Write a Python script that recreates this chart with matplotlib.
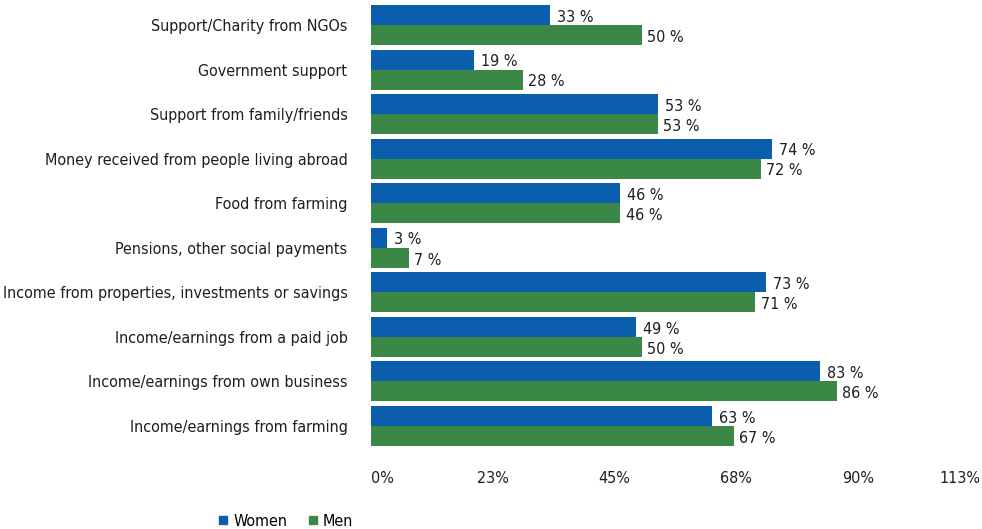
import matplotlib
matplotlib.use("Agg")
from matplotlib import pyplot as plt
from matplotlib import font_manager
from matplotlib.lines import Line2D

kategorien = [
    "Support/Charity from NGOs",
    "Government support",
    "Support from family/friends",
    "Money received from people living abroad",
    "Food from farming",
    "Pensions, other social payments",
    "Income from properties, investments or savings",
    "Income/earnings from a paid job",
    "Income/earnings from own business",
    "Income/earnings from farming",
]
frauen = [33, 19, 53, 74, 46, 3, 73, 49, 83, 63]
maenner = [50, 28, 53, 72, 46, 7, 71, 50, 86, 67]
ticks = [0, 22.5, 45, 67.5, 90, 112.5]
tick_texte = ["0%", "23%", "45%", "68%", "90%", "113%"]

blau = "#0b5ead"
gruen = "#3b8746"
text_farbe = "#1e1e1e"

# schmale Schrift, wenn vorhanden
namen = {f.name for f in font_manager.fontManager.ttflist}
if "Liberation Sans Narrow" in namen:
    schrift = dict(family="Liberation Sans Narrow")
else:
    schrift = dict(family="DejaVu Sans", stretch="condensed")

fig = plt.figure(figsize=(9.82, 5.29), dpi=100)
ax = fig.add_axes([371 / 982, 1 - 450.5 / 529, 609 / 982, 450 / 529])

hoehe = 0.45
pos = list(range(len(kategorien)))
ax.barh([p - hoehe / 2 for p in pos], frauen, height=hoehe, color=blau)
ax.barh([p + hoehe / 2 for p in pos], maenner, height=hoehe, color=gruen)

for p, w, m in zip(pos, frauen, maenner):
    ax.annotate(f"{w} %", (w, p - hoehe / 2 + 0.05), xytext=(5, 0), textcoords="offset points",
                va="center", ha="left", fontsize=11.5, color=text_farbe, **schrift)
    ax.annotate(f"{m} %", (m, p + hoehe / 2 + 0.05), xytext=(4, 0), textcoords="offset points",
                va="center", ha="left", fontsize=11.5, color=text_farbe, **schrift)

ax.set_xlim(0, 112.5)
ax.set_ylim(9.55, -0.55)
ax.set_yticks(pos)
ax.set_yticklabels(kategorien, **schrift)
ax.set_xticks(ticks)
ax.set_xticklabels(tick_texte, **schrift)
ax.tick_params(axis="y", length=0, pad=17, labelsize=11.5, labelcolor=text_farbe)
ax.tick_params(axis="x", length=0, pad=15, labelsize=11.5, labelcolor=text_farbe)
lbl = ax.get_xticklabels()
lbl[0].set_horizontalalignment("left")
lbl[-1].set_horizontalalignment("right")
for s in ax.spines.values():
    s.set_visible(False)

handles = [Line2D([], [], marker="s", ls="", color=blau, markersize=6),
           Line2D([], [], marker="s", ls="", color=gruen, markersize=6)]
fig.legend(handles, ["Women", "Men"], loc="center", bbox_to_anchor=(284 / 982, 1 - 521 / 529),
           ncol=2, frameon=False, prop=dict(size=11.5, **schrift), handletextpad=0.15,
           columnspacing=1.1, handlelength=1.0)

fig.savefig("out.png", dpi=100)
